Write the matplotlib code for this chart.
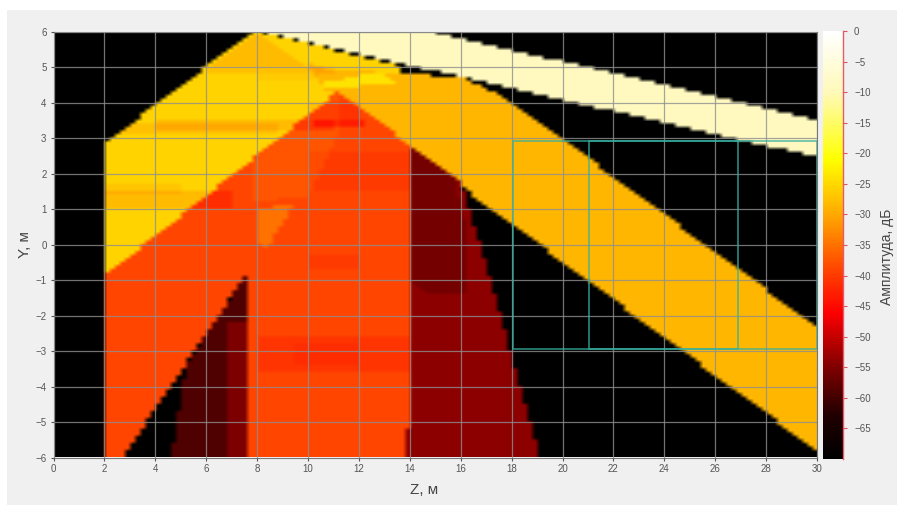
import numpy as np
import matplotlib
matplotlib.use("Agg")
import matplotlib.pyplot as plt
from matplotlib.colors import LinearSegmentedColormap, Normalize
from matplotlib.patches import Rectangle
from matplotlib.path import Path

plt.rcParams['font.family'] = ['Liberation Sans', 'DejaVu Sans']

# ---- data: regions (z, y outlines) and amplitudes in dB
pale_band = [(8, 6), (14.7, 6), (30, 3.5), (30, 2.44)]
pale_db = -9
left_band = [(2, 2.85), (7.85, 6), (8, 6), (13.6, 5.0), (13.6, 4.3), (11.15, 4.3), (2, -0.9)]
left_db = -25.5
right_band = [(9.9, 5.1), (10.6, 4.95), (13.6, 4.8), (16, 4.7), (16.8, 4.45), (18, 4.0), (30, -2.36), (30, -5.85), (11.15, 4.2), (10.6, 4.35)]
right_db = -28.5
warm_top = [(8.0, 5.95), (10.0, 5.0), (6.0, 5.0)]
warm_top_db = -28
yellow_spot = [(10.2, 4.5), (12.8, 4.85), (13.4, 4.55), (11.0, 4.38)]
yellow_spot_db = -24
red_main = [(2, -0.9), (11.15, 4.3), (14, 2.78), (14, -6), (7.6, -6), (7.7, -0.7), (2.7, -6), (2, -6)]
red_db = -39
red_light = [(7.7, 2.33), (11.15, 4.3), (11.3, 3.3), (10.0, 1.3), (7.7, 1.2)]
red_light_db = -37.5
sliver = [(7.9, 1.0), (9.4, 1.1), (8.4, -0.1), (7.9, 0.1)]
sliver_db = -35
dark_mid = [(4.6, -6), (5.2, -3.4), (7.7, -0.7), (7.6, -6)]
dark_mid_db = -59
dark_inner = [(6.8, -6), (6.9, -2.2), (7.6, -2.2), (7.7, -0.7), (7.6, -6)]
dark_inner_db = -55
dark_right = [(14, 2.78), (16, 1.7), (16.8, -0.16), (19.1, -6), (13.8, -6), (13.8, -5.2), (14, -5.2)]
dark_right_db = -54
dark_core = [(14, 2.78), (15.7, 1.85), (16.3, 0.2), (16.1, -1.4), (14.6, -1.4), (14, -1.0)]
dark_core_db = -56

regions = [(pale_band, pale_db), (left_band, left_db), (right_band, right_db),
           (warm_top, warm_top_db), (yellow_spot, yellow_spot_db),
           (red_main, red_db), (red_light, red_light_db), (sliver, sliver_db),
           (dark_mid, dark_mid_db), (dark_inner, dark_inner_db),
           (dark_right, dark_right_db), (dark_core, dark_core_db)]

# horizontal streaks: z range, y range, dB offset
streaks = [(2.6, 8.8, 3.1, 3.35, -2), (4.0, 11, 3.25, 3.45, -2.5), (2.0, 7, 1.0, 1.5, -2.5),
           (2.0, 5, 1.4, 1.7, -1.5), (6.0, 11, 4.85, 5.05, -2), (8.0, 10.5, 4.6, 4.85, -1),
           (8.0, 14, -3.6, -2.6, -1.5), (9.5, 12, -3.4, -2.8, -1), (10.0, 12, -0.7, -0.3, -1),
           (10.3, 12.3, 3.3, 3.5, -4), (10.0, 12, 3.5, 4.0, -2), (10.0, 14, 1.5, 2.6, -1)]

z_ticks = list(range(0, 31, 2))
y_ticks = list(range(-6, 7))
cb_ticks = list(range(0, -70, -5))
rect_a = (18.05, 26.9, -2.93, 2.93)
rect_b = (21.05, 30.0, -2.93, 2.93)

cmap_db = [-70, -63, -55, -46, -39, -30, -21, -10, 0]
cmap_col = ['#000000', '#200000', '#800000', '#ff0000', '#ff4500', '#ffa800',
            '#ffff00', '#fff9b8', '#ffffff']

# ---- raster
nz, ny = 150, 120
zc = (np.arange(nz) + 0.5) * 30 / nz
yc = -6 + (np.arange(ny) + 0.5) * 12 / ny
ZZ, YY = np.meshgrid(zc, yc)
pts = np.column_stack([ZZ.ravel(), YY.ravel()])
amp = np.full(ZZ.shape, -70.0)
mask_any = np.zeros(ZZ.shape, bool)
for poly, db in regions:
    m = Path(poly + [poly[0]]).contains_points(pts).reshape(ZZ.shape)
    amp[m] = db
    mask_any |= m
for z0, z1, y0, y1, d in streaks:
    m = (ZZ >= z0) & (ZZ < z1) & (YY >= y0) & (YY < y1) & mask_any & (amp < -15) & (amp > -50)
    amp[m] += d

norm = Normalize(-70, 0)
pos = [(v + 70) / 70 for v in cmap_db]
cmap = LinearSegmentedColormap.from_list('amp', list(zip(pos, cmap_col)))

W, H = 905, 507
fig = plt.figure(figsize=(W / 100, H / 100), dpi=100, facecolor='white')
fig.add_artist(Rectangle((7 / W, 1 - 505 / H), 890 / W, 495 / H, transform=fig.transFigure,
                         facecolor='#f0f0f0', edgecolor='none', zorder=-5))

ax = fig.add_axes([53.5 / W, 1 - 457.5 / H, (817 - 53.5) / W, (457.5 - 32) / H])
im = ax.imshow(amp, origin='lower', extent=(0, 30, -6, 6), aspect='auto', cmap=cmap, norm=norm,
               interpolation='bilinear', interpolation_stage='rgba')
ax.set_xlim(0, 30)
ax.set_ylim(-6, 6)
ax.set_xticks(z_ticks)
ax.set_yticks(y_ticks)
ax.grid(True, color='#8f8f8f', lw=0.9, alpha=0.8)
ax.set_axisbelow(False)
ax.tick_params(labelsize=7, colors='#555555', length=2.5, width=0.8, pad=2.5)
for s in ax.spines.values():
    s.set_color('#777777')
    s.set_linewidth(0.8)
fig.text(424 / W, 1 - 490 / H, 'Z, м', fontsize=11, color='#444444', ha='center', va='center')
fig.text(25 / W, 1 - 245 / H, 'Y, м', fontsize=11, color='#444444', ha='center', va='center', rotation=90)

for z0, z1, y0, y1 in (rect_a, rect_b):
    ax.add_patch(Rectangle((z0, y0), z1 - z0, y1 - y0, fill=False, edgecolor='#35b0a0', lw=1.1, alpha=0.85, zorder=5))

cax = fig.add_axes([823 / W, 1 - 459 / H, 20 / W, (459 - 31) / H])
cb = fig.colorbar(im, cax=cax)
cb.set_ticks(cb_ticks)
cb.ax.tick_params(labelsize=7, colors='#e05060', labelcolor='#555555', length=3, width=0.8, pad=5)
for name, s in cb.ax.spines.items():
    s.set_visible(name == 'right')
    s.set_color('#e85a6a')
    s.set_linewidth(1.0)
fig.text(887 / W, 1 - 257 / H, 'Амплитуда, дБ', fontsize=10, color='#444444', ha='center', va='center', rotation=90)

fig.savefig('out.png', dpi=100, facecolor='white')
